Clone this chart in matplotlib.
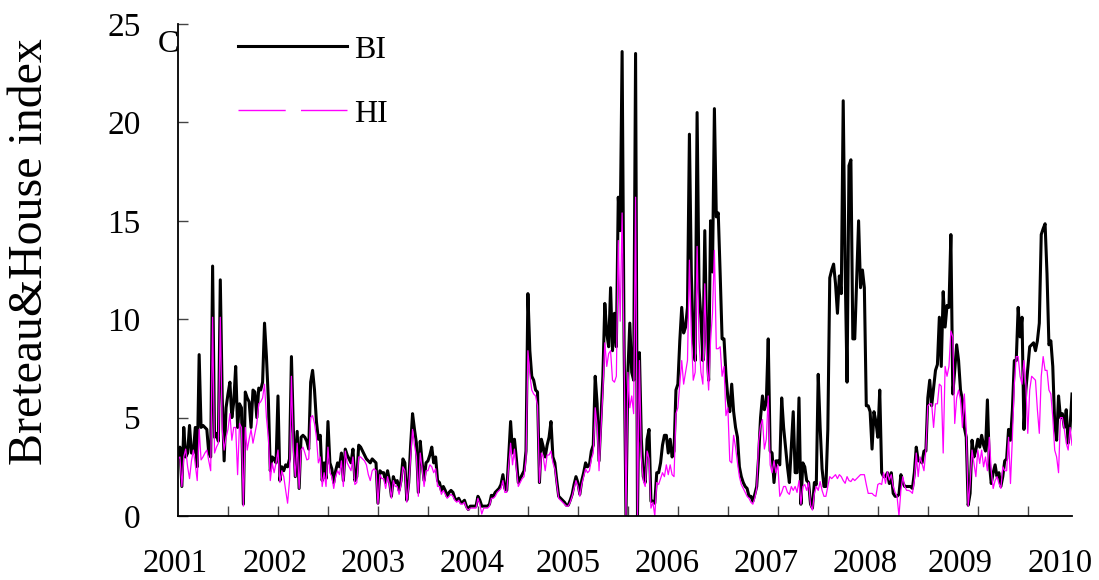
import matplotlib
matplotlib.use('Agg')
import matplotlib.pyplot as plt
import matplotlib.transforms as mtransforms
from matplotlib.lines import Line2D
import numpy as np

# weekly Breteau index (BI) and House index (HI), 2001 - 2010
bi = [
    3.1, 3.5, 1.5, 4.5, 3.0, 3.2, 4.6, 3.2, 3.2, 4.5,
    2.5, 8.2, 4.5, 4.6, 4.5, 4.4, 3.2, 3.0, 12.7, 4.0,
    4.2, 3.8, 12.0, 6.0, 2.8, 5.5, 6.2, 6.8, 5.0, 5.8,
    7.6, 4.5, 5.7, 5.5, 0.6, 6.3, 6.0, 5.8, 4.5, 6.4,
    6.3, 5.0, 6.5, 6.4, 6.8, 9.8, 8.1, 5.9, 2.3, 3.0,
    2.9, 2.7, 6.1, 1.8, 2.5, 2.3, 2.6, 2.5, 2.9, 8.1,
    4.4, 2.0, 4.3, 1.4, 4.0, 4.1, 4.0, 3.8, 3.4, 6.8,
    7.4, 6.4, 4.8, 3.9, 4.1, 1.8, 2.7, 1.9, 4.8, 2.7,
    2.4, 1.7, 2.3, 2.7, 2.5, 3.2, 1.8, 3.4, 3.1, 2.9,
    2.7, 3.4, 1.8, 2.0, 3.6, 3.5, 3.3, 3.1, 2.9, 2.8,
    2.7, 2.9, 2.8, 2.7, 0.65, 2.3, 2.2, 2.2, 1.7, 2.3,
    1.8, 1.0, 2.0, 1.7, 1.8, 1.3, 1.8, 2.9, 2.7, 0.8,
    1.7, 3.6, 5.2, 4.4, 3.7, 1.2, 3.8, 2.7, 1.8, 2.7,
    2.8, 3.1, 3.5, 2.7, 3.0, 1.8, 1.7, 1.3, 1.5, 1.3,
    1.0, 1.2, 1.3, 1.2, 0.9, 0.8, 0.9, 0.7, 0.7, 0.8,
    0.5, 0.33, 0.5, 0.5, 0.5, 0.5, 1.0, 0.8, 0.5, 0.5,
    0.5, 0.5, 0.6, 1.05, 1.0, 1.2, 1.3, 1.4, 1.6, 2.1,
    1.4, 1.3, 3.0, 4.8, 3.2, 3.9, 2.9, 1.7, 1.9, 2.1,
    2.3, 3.3, 11.3, 8.4, 7.1, 6.9, 6.4, 6.3, 1.7, 3.9,
    3.5, 3.0, 3.6, 4.0, 4.8, 3.0, 2.7, 1.8, 1.0, 0.9,
    0.8, 0.7, 0.55, 0.55, 0.8, 1.1, 1.6, 2.0, 1.7, 1.1,
    1.8, 2.2, 2.7, 2.5, 2.6, 3.3, 3.6, 7.1, 5.7, 2.8,
    5.0, 7.1, 10.8, 9.3, 8.6, 11.6, 8.4, 10.3, 8.6, 16.2,
    14.5, 23.6, 9.0, 0.0, 7.3, 9.8, 7.3, 6.9, 23.5, 0.0,
    8.3, 3.9, 2.0, 1.7, 3.9, 4.4, 0.75, 0.75, 0.65, 2.2,
    2.2, 2.7, 3.6, 4.1, 4.1, 3.2, 3.9, 3.0, 3.3, 6.4,
    6.7, 8.9, 10.6, 9.3, 9.6, 10.6, 19.4, 12.3, 8.9, 7.9,
    20.5, 11.6, 10.0, 7.9, 14.5, 8.9, 6.9, 15.0, 12.4, 20.7,
    15.2, 15.4, 12.3, 9.0, 9.0, 7.2, 6.0, 5.3, 6.7, 5.3,
    4.5, 4.0, 2.5, 2.0, 1.7, 1.5, 1.4, 1.0, 1.0, 0.75,
    1.1, 1.5, 3.0, 5.0, 6.1, 5.4, 5.8, 9.0, 3.3, 3.2,
    1.7, 2.8, 2.8, 2.6, 6.0, 4.5, 3.5, 2.5, 1.7, 3.5,
    5.3, 2.2, 2.2, 6.0, 0.6, 2.7, 2.5, 1.8, 1.7, 0.6,
    0.4, 1.7, 1.6, 7.2, 4.5, 2.4, 1.5, 1.5, 4.4, 12.1,
    12.5, 12.8, 11.8, 10.3, 12.2, 11.3, 21.1, 12.6, 6.8, 17.8,
    18.1, 9.0, 9.0, 12.0, 15.0, 11.6, 12.5, 11.6, 5.6, 5.6,
    5.3, 3.4, 5.3, 4.8, 4.0, 6.4, 2.2, 2.0, 2.0, 2.2,
    1.65, 2.2, 1.15, 1.0, 1.0, 1.1, 2.1, 1.7, 1.5, 1.5,
    1.5, 1.5, 1.4, 2.2, 3.5, 2.8, 2.8, 2.7, 3.3, 3.3,
    6.0, 6.9, 5.6, 6.5, 7.4, 7.7, 10.1, 7.6, 11.4, 9.6,
    10.7, 10.6, 14.3, 6.2, 7.4, 8.7, 7.9, 6.4, 5.9, 4.5,
    4.0, 0.55, 1.15, 3.85, 3.0, 3.35, 3.9, 3.5, 4.1, 3.6,
    3.3, 5.9, 2.7, 1.65, 2.2, 2.6, 2.0, 2.2, 1.5, 2.0,
    2.8, 2.9, 4.4, 3.85, 5.4, 7.9, 7.9, 10.6, 9.1, 10.1,
    4.4, 6.4, 7.5, 8.6, 8.7, 8.8, 8.4, 8.9, 9.8, 14.3,
    14.6, 14.85, 12.3, 8.7, 8.9, 7.6, 4.7, 3.85, 6.1, 5.0,
    5.2, 4.5, 5.4, 3.7, 4.5, 6.2,
]

hi = [
    2.9, 3.0, 1.5, 3.0, 3.4, 2.5, 1.9, 2.8, 3.35, 2.6,
    1.8, 4.4, 2.85, 3.0, 3.2, 3.35, 2.8, 2.3, 10.1, 3.2,
    3.5, 3.7, 10.1, 4.4, 3.35, 4.0, 4.4, 5.2, 3.85, 4.5,
    4.5, 2.1, 4.7, 4.5, 0.5, 4.5, 3.35, 3.9, 4.4, 3.7,
    4.2, 4.7, 5.7, 5.8, 6.0, 6.7, 5.0, 4.0, 1.8, 2.7,
    2.2, 2.7, 3.35, 1.7, 2.3, 2.0, 1.3, 0.65, 1.8, 7.1,
    3.35, 2.0, 3.7, 1.4, 3.35, 3.5, 3.2, 2.85, 2.9, 5.0,
    5.1, 4.7, 4.0, 2.7, 3.0, 1.5, 2.2, 1.5, 3.5, 2.2,
    2.0, 1.4, 2.0, 2.3, 2.1, 2.8, 1.5, 3.3, 2.7, 2.5,
    2.3, 3.0, 1.6, 1.7, 3.0, 3.0, 2.9, 2.8, 2.6, 2.1,
    1.8, 2.3, 2.4, 2.3, 0.6, 2.1, 1.9, 1.9, 1.4, 2.0,
    1.6, 0.9, 1.8, 1.5, 1.5, 1.1, 1.6, 2.5, 2.3, 0.7,
    1.5, 3.0, 4.4, 3.6, 3.0, 1.0, 3.2, 2.4, 1.5, 2.3,
    2.3, 2.6, 2.5, 2.2, 2.4, 1.5, 1.5, 1.1, 1.3, 1.1,
    0.9, 1.0, 1.1, 1.0, 0.8, 0.7, 0.8, 0.6, 0.6, 0.7,
    0.4, 0.3, 0.4, 0.4, 0.4, 0.4, 0.9, 0.6, 0.1, 0.4,
    0.4, 0.4, 0.5, 0.9, 0.9, 1.0, 1.2, 1.3, 1.4, 1.8,
    1.2, 1.2, 2.6, 3.7, 2.6, 3.4, 2.4, 1.5, 1.7, 1.9,
    2.0, 2.9, 8.4, 7.2, 6.4, 6.2, 6.1, 5.6, 1.7, 3.2,
    3.0, 2.3, 3.1, 3.1, 3.3, 2.7, 2.4, 1.6, 0.9, 0.8,
    0.7, 0.6, 0.5, 0.5, 0.7, 1.0, 1.4, 1.8, 1.5, 1.0,
    1.6, 2.0, 2.4, 2.2, 2.3, 2.9, 3.2, 5.5, 4.6, 2.3,
    4.4, 6.4, 8.8, 7.6, 8.25, 8.4, 6.9, 6.8, 7.1, 14.0,
    9.9, 15.4, 8.4, 0.0, 7.3, 5.5, 6.1, 5.2, 16.2, 0.0,
    7.9, 3.0, 1.8, 1.5, 3.3, 2.9, 0.4, 0.7, 0.0, 1.7,
    1.6, 1.9, 2.2, 2.0, 2.6, 2.1, 2.6, 2.1, 2.0, 5.2,
    5.5, 6.7, 7.9, 6.7, 7.3, 7.9, 13.0, 9.3, 6.9, 7.3,
    13.7, 8.9, 7.3, 6.7, 11.8, 7.9, 6.4, 8.9, 10.3, 13.5,
    8.5, 8.5, 8.6, 7.1, 7.6, 5.1, 5.5, 2.8, 2.7, 4.1,
    3.5, 2.7, 2.0, 1.6, 1.4, 1.2, 1.0, 0.9, 0.7, 0.6,
    0.9, 1.4, 3.8, 4.6, 4.9, 3.4, 3.9, 6.1, 2.6, 2.2,
    2.8, 2.2, 2.6, 1.0, 1.2, 1.5, 1.5, 1.2, 1.1, 1.5,
    1.3, 1.5, 1.2, 1.8, 0.6, 1.5, 1.6, 1.3, 1.7, 0.55,
    0.3, 1.15, 1.5, 1.3, 1.75, 1.3, 1.0, 1.0, 1.5, 2.0,
    1.9, 2.0, 2.1, 1.9, 2.1, 2.0, 1.8, 1.66, 2.0, 1.8,
    1.75, 1.9, 1.8, 1.9, 2.0, 2.1, 2.1, 2.1, 1.6, 1.15,
    1.15, 1.15, 1.05, 1.0, 1.6, 1.66, 1.6, 2.2, 1.66, 2.25,
    1.83, 2.1, 1.5, 1.2, 1.0, 0.0, 1.3, 2.0, 1.5, 1.3,
    1.3, 1.25, 1.15, 1.8, 3.2, 2.0, 3.0, 2.67, 2.3, 3.35,
    5.6, 5.7, 5.7, 4.5, 5.7, 5.7, 6.7, 6.6, 3.2, 7.6,
    7.1, 7.6, 9.4, 9.1, 4.7, 6.0, 6.4, 5.9, 4.5, 6.2,
    4.4, 0.5, 1.65, 3.35, 2.67, 2.0, 3.35, 2.67, 3.35, 2.5,
    3.0, 2.3, 4.0, 2.3, 1.4, 1.8, 2.0, 1.65, 1.4, 2.5,
    2.3, 2.3, 4.0, 1.65, 4.0, 6.7, 8.1, 8.1, 7.1, 6.7,
    7.9, 6.7, 4.2, 6.4, 7.1, 7.0, 6.9, 5.4, 4.2, 7.1,
    8.1, 7.4, 7.4, 6.4, 6.2, 5.0, 3.35, 3.0, 2.2, 5.0,
    5.0, 4.4, 3.7, 3.35, 4.5, 3.6,
]

years = ['2001', '2002', '2003', '2004', '2005',
         '2006', '2007', '2008', '2009', '2010']

# where the year labels sit along the week axis (layout only)
year_label_x = [-1.6, 50.4, 101.4, 152.9, 202.8, 254.3, 305.8, 357.3, 406.7, 458.7]

plt.rcParams['font.family'] = ['Liberation Serif', 'DejaVu Serif']

weeks = np.arange(len(bi))

fig = plt.figure(figsize=(10.99, 5.8), dpi=100)
ax = fig.add_axes([178 / 1099, 1 - 516 / 580, 894 / 1099, 492 / 580])

ax.plot(weeks, bi, color='black', lw=2.2)
ax.plot(weeks, hi, color='#ff00ff', lw=0.9)

ax.set_xlim(0, len(bi) - 1)
ax.set_ylim(0, 25)
ax.set_xticks(np.arange(26, len(bi) - 1, 26))
ax.set_xticklabels([])
ax.set_yticks(range(0, 26, 5))
ax.tick_params(axis='both', direction='in', length=7, width=1, color='#444444')
ax.tick_params(axis='y', pad=27, labelsize=24)
for side in ('top', 'right'):
    ax.spines[side].set_visible(False)
for side in ('left', 'bottom'):
    ax.spines[side].set_linewidth(1.3)

# year labels under the axis
trans = mtransforms.blended_transform_factory(ax.transData, fig.transFigure)
for x, lab in zip(year_label_x, years):
    ax.text(x, 1 - 564 / 580, lab, transform=trans, ha='center', va='center',
            fontsize=23.5, clip_on=False)

fig.text(30 / 1099, 1 - 252 / 580, 'Breteau&House index', rotation=90,
         ha='center', va='center', fontsize=34.5)
fig.text(168 / 1099, 1 - 44 / 580, 'C', ha='center', va='center', fontsize=23)

handles = [Line2D([], [], color='black', lw=2.2),
           Line2D([], [], color='#ff00ff', lw=1.0, dashes=(34, 11))]
ax.legend(handles, ['BI', 'HI'], loc='upper left', bbox_to_anchor=(0.067, 0.977),
          frameon=False, fontsize=23, handlelength=3.4, handletextpad=0.25,
          labelspacing=1.08, borderpad=0, borderaxespad=0)

fig.savefig('out.png', dpi=100)
